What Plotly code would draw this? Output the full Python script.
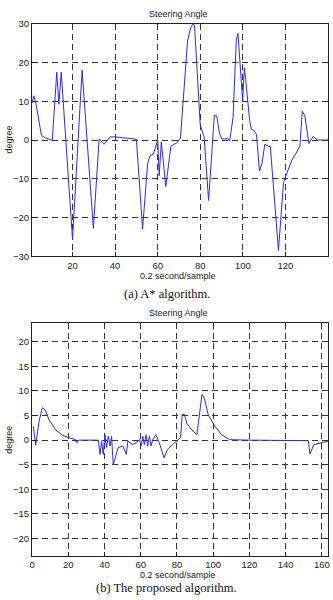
import plotly.graph_objects as go

# ---- Data: (a) A* algorithm ----
a_x = [1, 1.8, 2.8, 4.3, 5.4, 7.4, 10.5, 12.6, 13.6, 14.7, 20, 24.5, 29.8, 32.5, 34.8,
       37.6, 40, 50, 52.9, 55.3, 56.4, 58, 59.5, 60, 60.7, 61.7, 63.8, 66.2, 67.5, 68.7,
       70.7, 71.6, 72.6, 74, 75.5, 76.7, 77.3, 78.5, 79.4, 80, 81.8, 83.9, 86.6, 87.8,
       89, 90, 91.5, 93.2, 93.8, 95.4, 96.9, 97.7, 99.9, 100.7, 101.3, 103.2, 104, 105.2,
       106.4, 107.8, 109, 110.3, 112, 112.9, 116.7, 119.1, 120.6, 123, 125.3, 126.8,
       127.9, 129.1, 131, 133, 135, 140]
a_y = [9.5, 11.4, 9.5, 4.2, 1.2, 0.5, -0.1, 17.5, 9.2, 17.5, -25.6, 18, -22.8, 0.3, -1.1,
       0.8, 0.8, 0.2, -22.9, -6, -4.1, -3.6, -0.8, 0, -9.2, -0.5, -12, -1.6, -1.1, -0.9,
       0.5, 6.7, 14, 25.5, 29, 30, 29.5, 18, 10, 3.8, 0.8, -15.6, 6.4, 6, 1.8, 0.3, 0.3,
       0.3, -0.2, 5.8, 25.8, 27.5, 10, 18.6, 15.6, 5, 2.7, 2.5, 1.4, -8, -6, -1.1, -1.6,
       -1.7, -28.5, -11, -8.6, -5.2, -3.1, -1.5, 7.4, 6.3, -0.9, 0.9, 0, 0]

# ---- Data: (b) proposed algorithm ----
b_x = [0.7, 2, 4, 5.7, 7.3, 9.4, 13, 16.7, 20.3, 24, 24.9, 25.7, 36.6, 37.5, 38.4, 39.3,
       40.2, 41.1, 42.1, 43, 43.9, 44.8, 45.7, 47.5, 50.2, 52, 52.9, 55.6, 57.5, 59.3,
       60.2, 61.1, 62, 62.9, 63.8, 64.8, 65.7, 66.6, 68.3, 70.2, 72.9, 74.7, 77.5, 80.1,
       82, 82.9, 84.2, 85.5, 88.2, 91, 93.8, 95.1, 97.3, 101, 104.6, 109.1, 120, 152.5,
       153.4, 155.6, 159.8, 163.4]
b_y = [2.8, -1, 4.1, 6.6, 6.1, 4.1, 2.1, 1, 0.5, 0.1, -0.5, 0, 0, -2.9, -0.2, -2.9,
       1.1, -1.5, 0.8, -1.2, 0.8, -4.9, -3.9, -1.5, -1.2, -2.9, -0.2, -0.9, -0.5, 0.1,
       -1.2, 0.8, -0.9, 1.1, -1.2, 0.8, -1.2, 0.1, 1.1, -0.5, -3.6, -1.9, -0.9, -0.2,
       0.5, 5.3, 5.2, 3.3, 2.1, 1.1, 9.3, 8.5, 5.1, 2.8, 1.1, 0.1, 0, -0.1, -2.8, -0.9,
       -0.5, -0.2]

a_xticks = [20, 40, 60, 80, 100, 120]
a_yticks = [-30, -20, -10, 0, 10, 20, 30]
b_xticks = [0, 20, 40, 60, 80, 100, 120, 140, 160]
b_yticks = [-20, -15, -10, -5, 0, 5, 10, 15, 20]

W, H = 333, 600
line = dict(color="#2a2af0", width=1)

fig = go.Figure()
fig.add_trace(go.Scatter(x=a_x, y=a_y, mode="lines", line=line, xaxis="x", yaxis="y",
                         showlegend=False, hoverinfo="skip"))
fig.add_trace(go.Scatter(x=b_x, y=b_y, mode="lines", line=line, xaxis="x2", yaxis="y2",
                         showlegend=False, hoverinfo="skip"))

def fx(px):
    return px / W

def fy(py):
    return 1 - py / H

axis_common = dict(showline=True, mirror=True, linecolor="#222", linewidth=1,
                   ticks="inside", ticklen=4, tickcolor="#222",
                   showgrid=True, gridcolor="#333", gridwidth=1, griddash="6px,4px",
                   zeroline=False, tickfont=dict(family="Liberation Sans, Arial", size=9.5, color="#222"))

xd = [fx(29.5), fx(330)]
fig.update_layout(
    width=W, height=H, margin=dict(l=0, r=0, t=0, b=0),
    paper_bgcolor="white", plot_bgcolor="white",
    xaxis=dict(domain=xd, range=[1, 140], tickvals=a_xticks, anchor="y", **axis_common),
    yaxis=dict(domain=[fy(255), fy(18)], range=[-30, 30], tickvals=a_yticks, anchor="x", **axis_common),
    xaxis2=dict(domain=xd, range=[0, 163.4], tickvals=b_xticks, anchor="y2", **axis_common),
    yaxis2=dict(domain=[fy(560), fy(323)], range=[-23.5, 23.8], tickvals=b_yticks, anchor="x2", **axis_common),
)

sans = dict(family="Liberation Sans, Arial", size=9, color="#222")
serif = dict(family="Liberation Serif, Times New Roman", size=12.5, color="#111")

def ann(text, px, py, font, angle=0):
    fig.add_annotation(text=text, x=fx(px), y=fy(py), xref="paper", yref="paper",
                       showarrow=False, font=font, textangle=angle,
                       xanchor="center", yanchor="middle")

ann("Steering Angle", 178, 8, sans)
ann("0.2 second/sample", 178, 275, sans)
ann("degree", 6, 136, sans, -90)
ann("(a) A* algorithm.", 166, 293, serif)
ann("Steering Angle", 178, 313, sans)
ann("0.2 second/sample", 178, 580, sans)
ann("degree", 6, 442, sans, -90)
ann("(b) The proposed algorithm.", 166, 593, serif)

fig.write_html("out.html")
